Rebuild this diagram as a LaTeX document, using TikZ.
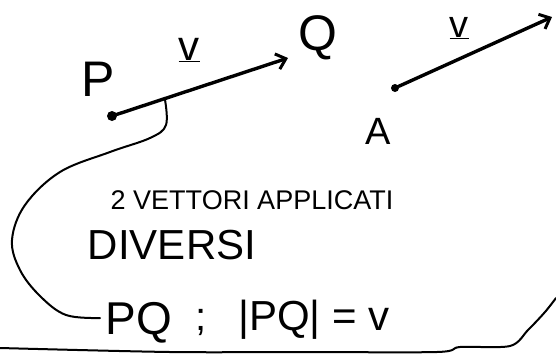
\documentclass[tikz,border=0pt]{standalone}
\usepackage{fontspec}
\setmainfont{Liberation Sans}
\usetikzlibrary{arrows.meta,calc}

\begin{document}
\begin{tikzpicture}[x=1pt,y=-1pt,
    pen/.style={line width=3.4pt,line cap=round,line join=round},
    thinpen/.style={line width=2pt,line cap=round,line join=round},
    barb/.style={-{Straight Barb[length=9pt,width=16pt,line width=3pt]}},
    hand/.style={font=\fontsize{#1}{#1}\selectfont,inner sep=0pt},
    dot/.style={circle,fill,inner sep=0pt,minimum size=#1}]
    \useasboundingbox (0,0) rectangle (556,354);
    % primo vettore applicato in P
    \node[dot=10pt] (p) at (112,116) {};
    \node[hand=50] (plab) at (98,79) {P};
    \coordinate (qtip) at (288,58);
    \node[hand=50] (q) at (318,38) {Q};
    \draw[pen,barb] (p) -- (qtip);
    \node[hand=42] (v1) at (189,50) {\underline{v}};

    % secondo vettore applicato in A
    \node[dot=8pt] (a) at (395,88) {};
    \node[hand=38] (alab) at (378,131) {A};
    \coordinate (atip) at (552,17);
    \draw[pen,barb] (a) -- (atip);
    \node[hand=38] (v2) at (459,28) {\underline{v}};

    % testo
    \node[hand=27] (riga1) at (252,200) {2 VETTORI APPLICATI};
    \node[hand=42] (riga2) at (172,245) {DIVERSI};
    \node[hand=46] (pq) at (139,323) {PQ};
    \node[hand=40] (sep) at (201,322) {;};
    \node[hand=42] (modulo) at (314,320) {|PQ| = v};

    % parentesi che collega il vettore al testo
    \coordinate (brace) at ($(p)!0.3!(qtip)$);
    \draw[thinpen] plot[smooth,tension=0.6] coordinates {(brace) (166,125) (150,138) (110,152) (60,172) (25,205) (12,240) (20,270) (40,296) (66,315) (100,318)};
    \draw[thinpen] plot[smooth,tension=0.5] coordinates {(0,348) (170,352) (300,352) (437,352) (460,347) (510,346) (528,330) (545,312) (556,298)};
\end{tikzpicture}
\end{document}
